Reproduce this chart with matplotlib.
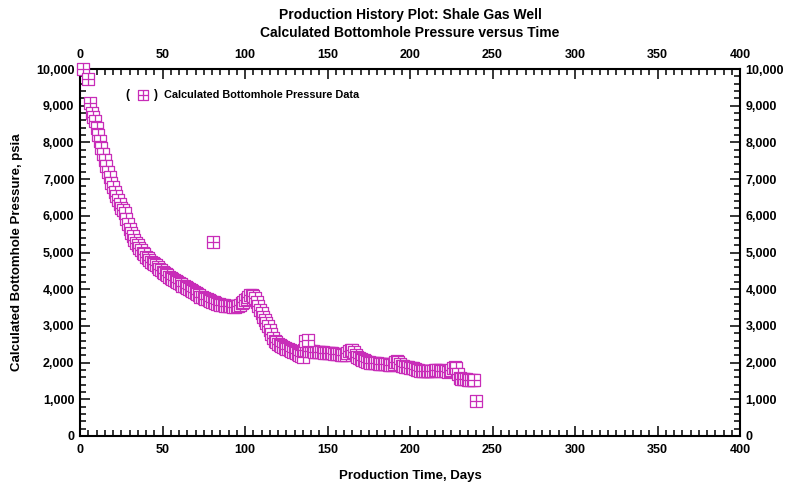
import numpy as np
import matplotlib
matplotlib.use("Agg")
import matplotlib.pyplot as plt
from matplotlib.path import Path
from matplotlib.ticker import MultipleLocator, FuncFormatter

plt.rcParams['font.family'] = ['Liberation Sans', 'DejaVu Sans']

# Early-time readings
early_days = [2, 5, 6]
early_bhp = [10000, 9730, 9080]

# Daily calculated bottomhole pressure, days 7 through 239
daily_start = 7
daily_bhp = [
    8800, 8700, 8580, 8400, 8200, 8030, 7850, 7680, 7520, 7360,   # 7-16
    7200, 7050, 6900, 6780, 6660, 6540, 6430, 6320, 6220, 6150,   # 17-26
    6080, 5900, 5780, 5650, 5530, 5440, 5350, 5270, 5200, 5130,   # 27-36
    5070, 5000, 4950, 4880, 4840, 4790, 4750, 4720, 4680, 4650,   # 37-46
    4600, 4560, 4520, 4480, 4450, 4420, 4380, 4340, 4310, 4280,   # 47-56
    4250, 4220, 4190, 4160, 4130, 4100, 4080, 4060, 4030, 4000,   # 57-66
    3980, 3950, 3920, 3890, 3860, 3830, 3800, 3780, 3760, 3740,   # 67-76
    3720, 3700, 3680, 3660, 3640, 3620, 3600, 3590, 3580, 3570,   # 77-86
    3560, 3550, 3540, 3540, 3530, 3530, 3520, 3520, 3530, 3550,   # 87-96
    3580, 3620, 3660, 3700, 3740, 3790, 3830, 3840, 3820, 3760,   # 97-106
    3660, 3550, 3430, 3340, 3250, 3170, 3090, 2990, 2890, 2790,   # 107-116
    2680, 2600, 2550, 2510, 2480, 2450, 2430, 2400, 2380, 2360,   # 117-126
    2340, 2320, 2300, 2280, 2260, 2230, 2200, 2180, 2150, 2330,   # 127-136
    2340, 2330, 2320, 2310, 2310, 2300, 2300, 2290, 2290, 2280,   # 137-146
    2280, 2270, 2270, 2260, 2260, 2250, 2250, 2240, 2240, 2230,   # 147-156
    2230, 2220, 2210, 2200, 2200, 2260, 2320, 2340, 2330, 2280,   # 157-166
    2200, 2150, 2120, 2100, 2080, 2060, 2040, 2020, 2010, 2000,   # 167-176
    1990, 1990, 1980, 1980, 1970, 1970, 1960, 1960, 1950, 1950,   # 177-186
    1940, 1940, 1930, 1950, 2010, 2030, 2020, 1960, 1920, 1900,   # 187-196
    1890, 1880, 1870, 1860, 1850, 1840, 1830, 1810, 1790, 1770,   # 197-206
    1760, 1760, 1760, 1770, 1770, 1770, 1780, 1780, 1790, 1790,   # 207-216
    1800, 1790, 1780, 1770, 1760, 1760, 1750, 1760, 1790, 1850,   # 217-226
    1890, 1850, 1700, 1580, 1550, 1540, 1540, 1540, 1530, 1530,   # 227-236
    1530, 1520, 1520,                                             # 237-239
]

# Isolated readings off the main trend
spike_days = [80.5, 136.5, 138, 240]
spike_bhp = [5290, 2600, 2620, 940]

days = np.concatenate([early_days,
                       np.arange(daily_start, daily_start + len(daily_bhp)),
                       spike_days])
bhp = np.concatenate([early_bhp, daily_bhp, spike_bhp])

# Boxed-plus marker: square outline with a cross through the centre
verts = [(-1, -1), (1, -1), (1, 1), (-1, 1), (-1, -1),
         (0, -1), (0, 1), (-1, 0), (1, 0)]
codes = [Path.MOVETO, Path.LINETO, Path.LINETO, Path.LINETO, Path.CLOSEPOLY,
         Path.MOVETO, Path.LINETO, Path.MOVETO, Path.LINETO]
box_plus = Path(verts, codes)

color = '#C82DB8'

fig = plt.figure(figsize=(7.87, 4.86), dpi=100)
ax = fig.add_axes([0.1017, 0.1029, 0.8386, 0.7551])

ax.plot(days, bhp, linestyle='none', marker=box_plus, markersize=8.8,
        markerfacecolor='white', markeredgecolor=color, markeredgewidth=0.9,
        clip_on=False, zorder=3)

ax.set_xlim(0, 400)
ax.set_ylim(0, 10000)
ax.xaxis.set_major_locator(MultipleLocator(50))
ax.xaxis.set_minor_locator(MultipleLocator(5))
ax.yaxis.set_major_locator(MultipleLocator(1000))
ax.yaxis.set_minor_locator(MultipleLocator(200))
ax.yaxis.set_major_formatter(FuncFormatter(lambda v, p: f"{int(v):,}"))

ax.tick_params(which='both', direction='in', top=True, right=True,
               labeltop=True, labelright=True, width=1.1, color='black')
ax.tick_params(which='major', length=7, labelsize=9)
ax.tick_params(axis='x', which='major', pad=6)
ax.tick_params(axis='y', which='major', pad=4)
ax.tick_params(which='minor', length=4)
for t in ax.xaxis.get_major_ticks() + ax.yaxis.get_major_ticks():
    t.label1.set_fontweight('bold')
    t.label2.set_fontweight('bold')

for s in ax.spines.values():
    s.set_linewidth(1.5)

ax.set_xlabel('Production Time, Days', fontsize=9.5, fontweight='bold', labelpad=10)
ax.set_ylabel('Calculated Bottomhole Pressure, psia', fontsize=9.5,
              fontweight='bold', labelpad=9)

fig.text(0.521, 0.983, 'Production History Plot: Shale Gas Well\n'
         'Calculated Bottomhole Pressure versus Time',
         ha='center', va='top', fontsize=10, fontweight='bold', linespacing=1.3)

# Legend entry drawn as "( marker ) label"
ax.text(0.072, 0.929, '(', transform=ax.transAxes, ha='center', va='center',
        fontsize=8.5, fontweight='bold')
ax.plot([0.096], [0.929], transform=ax.transAxes, linestyle='none',
        marker=box_plus, markersize=6.8, markerfacecolor='white',
        markeredgecolor=color, markeredgewidth=0.9, clip_on=False)
ax.text(0.115, 0.929, ')', transform=ax.transAxes, ha='center', va='center',
        fontsize=8.5, fontweight='bold')
ax.text(0.127, 0.929, 'Calculated Bottomhole Pressure Data',
        transform=ax.transAxes, ha='left', va='center', fontsize=7.8,
        fontweight='bold')

fig.savefig('out.png', dpi=100)
